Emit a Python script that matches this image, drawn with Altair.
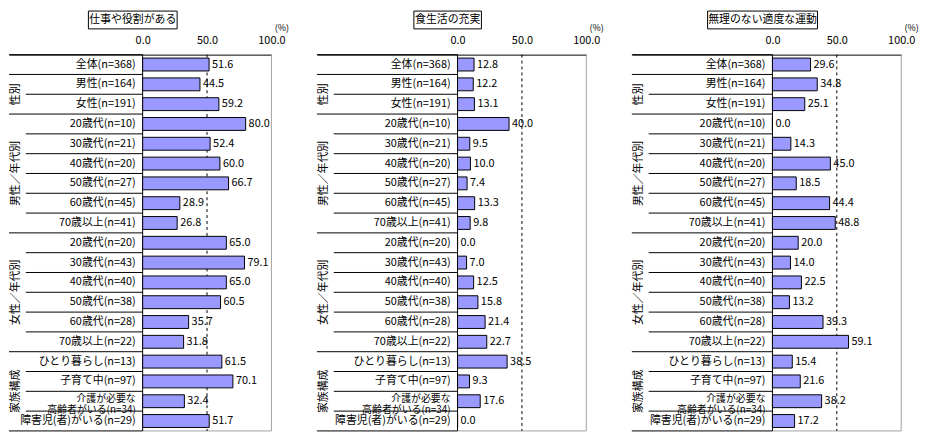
import altair as alt
import pandas as pd

categories = [
    "全体(n=368)", "男性(n=164)", "女性(n=191)",
    "20歳代(n=10)", "30歳代(n=21)", "40歳代(n=20)", "50歳代(n=27)", "60歳代(n=45)", "70歳以上(n=41)",
    "20歳代(n=20)", "30歳代(n=43)", "40歳代(n=40)", "50歳代(n=38)", "60歳代(n=28)", "70歳以上(n=22)",
    "ひとり暮らし(n=13)", "子育て中(n=97)", "介護が必要な\n高齢者がいる(n=34)", "障害児(者)がいる(n=29)",
]
groups = ["", "性別", "男性／年代別", "女性／年代別", "家族構成"]
group_sizes = [1, 2, 6, 6, 4]
titles = ["仕事や役割がある", "食生活の充実", "無理のない適度な運動"]
work = [51.6, 44.5, 59.2, 80.0, 52.4, 60.0, 66.7, 28.9, 26.8, 65.0, 79.1, 65.0, 60.5, 35.7, 31.8, 61.5, 70.1, 32.4, 51.7]
food = [12.8, 12.2, 13.1, 40.0, 9.5, 10.0, 7.4, 13.3, 9.8, 0.0, 7.0, 12.5, 15.8, 21.4, 22.7, 38.5, 9.3, 17.6, 0.0]
exercise = [29.6, 34.8, 25.1, 0.0, 14.3, 45.0, 18.5, 44.4, 48.8, 20.0, 14.0, 22.5, 13.2, 39.3, 59.1, 15.4, 21.6, 38.2, 17.2]
axis_ticks = [0, 50, 100]
ref_line = 50
axis_max = 100

FONT = "Noto Sans CJK JP"
N = len(categories)
ROW = 20
H = ROW * N
BAR_W = 130
LABEL_WS = [135, 142, 142]
FS = 11

rows = pd.DataFrame({"idx": list(range(N)), "cat": categories})
rows["multi"] = rows["cat"].str.contains("\n")

starts, ends = [], []
s = 0
for g in group_sizes:
    starts.append(s)
    ends.append(s + g)
    s += g
grp = pd.DataFrame({"name": groups, "start": starts, "end": ends})
grp = grp[grp["name"] != ""]
full_b = set(starts + [N])
bounds_df = pd.DataFrame({"b": list(range(N + 1)), "full": [b in full_b for b in range(N + 1)]})

yq_scale = alt.Scale(domain=[0, N], reverse=True)


def panel(title, values, lw):
    W = lw + BAR_W
    xmin = -lw * axis_max / BAR_W
    df = rows.assign(v=values)
    axis = alt.Axis(
        orient="top", values=axis_ticks, format=".1f", grid=False, ticks=False, labelPadding=9,
        domainColor="black", labelFontSize=FS, labelColor="black", labelFlush=False,
        title="(%)", titleX=W + 10, titleY=-22, titleAlign="center", titleBaseline="bottom",
        titleFontSize=9, titleFontWeight="normal", titleColor="black", titleAngle=0,
    )
    xenc = alt.X("v:Q", scale=alt.Scale(domain=[xmin, axis_max], nice=False, zero=False), axis=axis)
    yenc = alt.Y("idx:O", scale=alt.Scale(paddingInner=0.35, paddingOuter=0.175), axis=None)

    # label area
    txt = alt.Chart(rows).transform_filter("!datum.multi").transform_calculate(
        yc="datum.idx + 0.5"
    ).mark_text(
        align="right", baseline="middle", fontSize=FS, color="black"
    ).encode(x=alt.value(lw - 7), y=alt.Y("yc:Q", scale=yq_scale, axis=None), text="cat:N")
    txt2 = alt.Chart(rows).transform_filter("datum.multi").transform_calculate(
        yc="datum.idx + 0.5"
    ).mark_text(
        align="right", baseline="middle", fontSize=10, lineBreak="\n", lineHeight=11,
        dy=-2.5, color="black"
    ).encode(x=alt.value(lw - 7), y=alt.Y("yc:Q", scale=yq_scale, axis=None), text="cat:N")
    gtxt = alt.Chart(grp).transform_calculate(yc="(datum.start + datum.end) / 2").mark_text(
        angle=270, align="center", baseline="middle", fontSize=FS, color="black"
    ).encode(x=alt.value(7.5), y=alt.Y("yc:Q", scale=yq_scale, axis=None), text="name:N")
    full_rules = alt.Chart(bounds_df).transform_filter("datum.full").mark_rule(color="black").encode(
        x=alt.value(0), x2=alt.value(lw), y=alt.Y("b:Q", scale=yq_scale, axis=None)
    )
    inner_rules = alt.Chart(bounds_df).transform_filter("!datum.full").mark_rule(color="black").encode(
        x=alt.value(17), x2=alt.value(lw), y=alt.Y("b:Q", scale=yq_scale, axis=None)
    )

    # title box above
    c = lw - 10
    bw = 10.7 * len(title) + 4
    tdf = pd.DataFrame({"t": [title]})
    box = alt.Chart(tdf).mark_rect(fill="white", stroke="black", strokeWidth=1).encode(
        x=alt.value(c - bw / 2), x2=alt.value(c + bw / 2), y=alt.value(-44), y2=alt.value(-26)
    )
    ttxt = alt.Chart(tdf).mark_text(fontSize=FS, align="center", baseline="middle", color="black").encode(
        x=alt.value(c), y=alt.value(-34.5), text="t:N"
    )

    # plot area
    rdf = pd.DataFrame({"v": [ref_line]})
    dash = alt.Chart(rdf).mark_rule(color="black", strokeDash=[3, 3], strokeWidth=1).encode(x=xenc)
    right = alt.Chart(rdf).mark_rule(color="#a0a0a0").encode(x=alt.value(W))
    bottom = alt.Chart(rdf).mark_rule(color="#a0a0a0").encode(x=alt.value(lw), x2=alt.value(W), y=alt.value(H))
    zero_line = alt.Chart(rdf).mark_rule(color="black").encode(x=alt.value(lw))
    bars = alt.Chart(df).mark_bar(color="#9999ff", stroke="black", strokeWidth=1).encode(x=xenc, y=yenc)
    labels = alt.Chart(df).mark_text(
        align="left", baseline="middle", dx=3, fontSize=FS, color="black"
    ).encode(x=xenc, y=yenc, text=alt.Text("v:Q", format=".1f"))

    return alt.layer(
        right, bottom, dash, full_rules, inner_rules, zero_line, bars, labels, txt, txt2, gtxt, box, ttxt
    ).resolve_scale(y="independent").properties(width=W, height=H)


panels = [panel(t, v, lw) for t, v, lw in zip(titles, [work, food, exercise], LABEL_WS)]

chart = alt.hconcat(*panels, spacing=46, bounds="flush").properties(padding=0).configure(
    font=FONT
).configure_view(strokeWidth=0)

chart.save("out.html", embed_options={"renderer": "svg", "actions": False})
